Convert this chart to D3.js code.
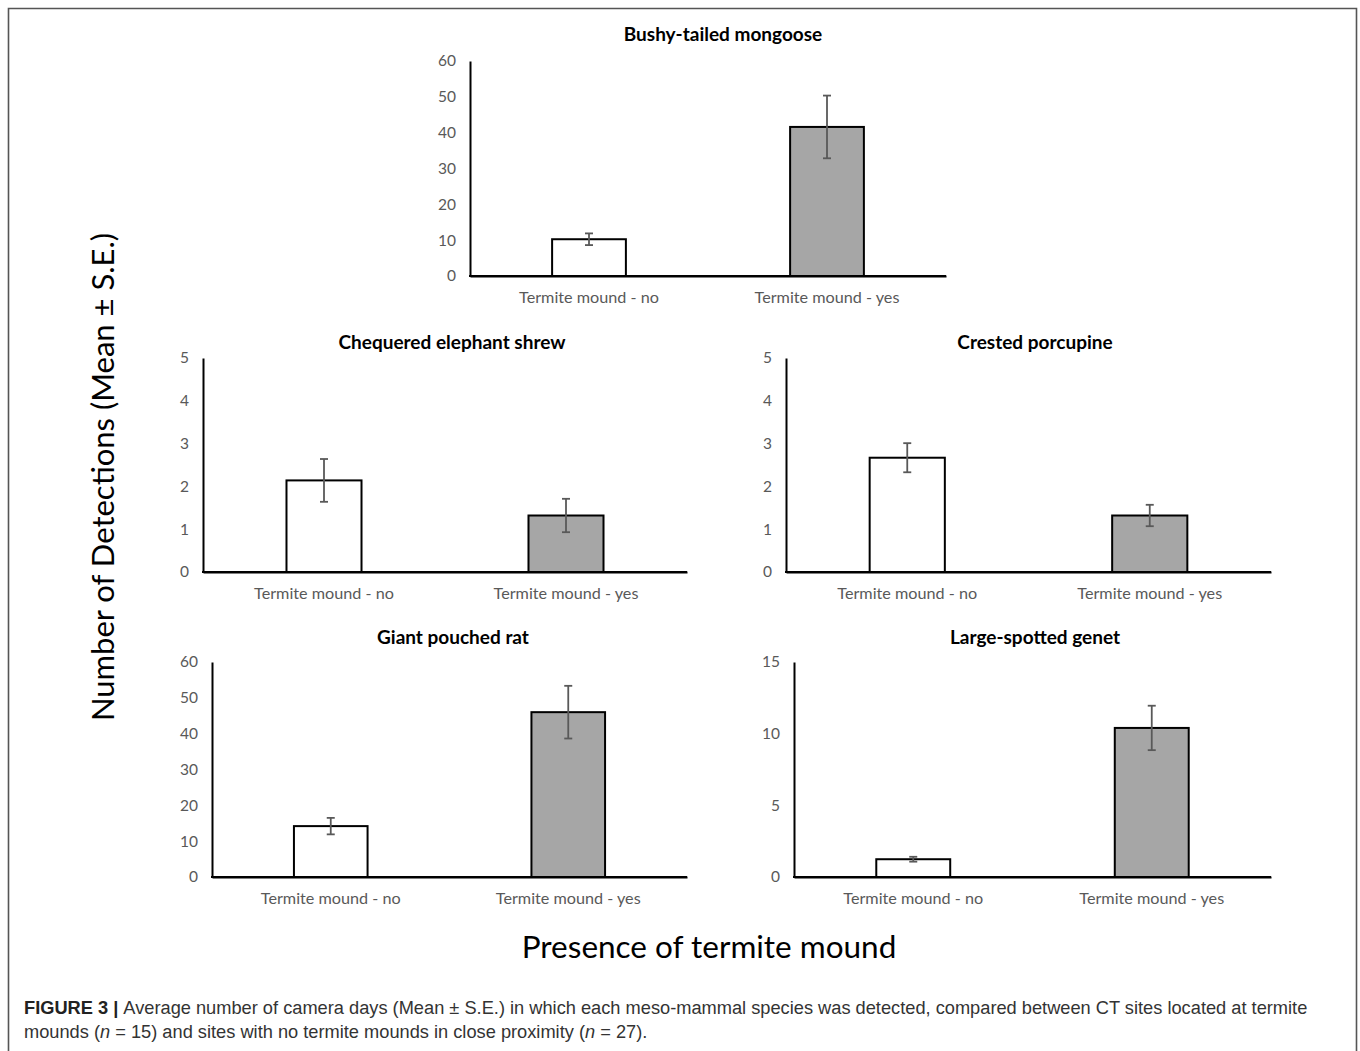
<!DOCTYPE html>
<html>
<head>
<meta charset="utf-8">
<script src="https://cdn.jsdelivr.net/npm/d3@7/dist/d3.min.js"></script>
<style>
  html, body { margin: 0; padding: 0; background: #fff; }
  svg { display: block; }
</style>
</head>
<body>
<svg id="chart" width="1360" height="1051"></svg>
<script>
// ---------------- data ----------------
const categories = ["Termite mound - no", "Termite mound - yes"];
const species = ["Bushy-tailed mongoose", "Chequered elephant shrew", "Crested porcupine", "Giant pouched rat", "Large-spotted genet"];
const meanNo  = [10.26, 2.14, 2.67, 14.2, 1.24];
const meanYes = [41.6, 1.32, 1.32, 46.0, 10.4];
const seNo    = [1.63, 0.50, 0.34, 2.3, 0.17];
const seYes   = [8.75, 0.39, 0.25, 7.35, 1.55];
const yMax    = [60, 5, 5, 60, 15];
const yStep   = [10, 1, 1, 10, 5];
const yTitle = "Number of Detections (Mean \u00B1 S.E.)";
const xTitle = "Presence of termite mound";

// ---------------- layout ----------------
const panels = [
  { x0: 470, x1: 946,  yTop: 61,  yBase: 276, tx: 723,  ty: 41 },
  { x0: 203, x1: 687,  yTop: 358, yBase: 572, tx: 452,  ty: 349 },
  { x0: 786, x1: 1271, yTop: 358, yBase: 572, tx: 1035, ty: 349 },
  { x0: 212, x1: 687,  yTop: 662, yBase: 877, tx: 453,  ty: 644 },
  { x0: 794, x1: 1271, yTop: 662, yBase: 877, tx: 1035, ty: 644 }
];
const fills = ["#ffffff", "#a6a6a6"];
const chartFont = "Lato, 'Open Sans', sans-serif";

const svg = d3.select("#chart");

// frame
svg.append("path")
  .attr("d", "M8.5,1051 L8.5,8.5 L1356.5,8.5 L1356.5,1051")
  .attr("fill", "none").attr("stroke", "#555").attr("stroke-width", 1.6);

species.forEach((name, i) => {
  const p = panels[i];
  const g = svg.append("g");
  const x = d3.scaleBand().domain(categories).range([p.x0, p.x1])
    .paddingInner(0.69).paddingOuter(0.345);
  const y = d3.scaleLinear().domain([0, yMax[i]]).range([p.yBase, p.yTop]);
  const ticks = d3.range(0, yMax[i] + yStep[i] / 2, yStep[i]);

  // y axis
  const yAxis = d3.axisLeft(y).tickValues(ticks).tickSize(0).tickPadding(14)
    .tickFormat(d3.format("d"));
  const ya = g.append("g").attr("transform", `translate(${p.x0},0)`).call(yAxis);
  ya.select(".domain").attr("stroke", "#000").attr("stroke-width", 2);
  ya.selectAll("text").attr("fill", "#595959").style("font-family", chartFont).style("font-size", "15.5px");

  // x axis
  const xAxis = d3.axisBottom(x).tickSize(0).tickPadding(15);
  const xa = g.append("g").attr("transform", `translate(0,${p.yBase})`).call(xAxis);
  xa.select(".domain").attr("stroke", "#000").attr("stroke-width", 2);
  xa.selectAll("text").attr("fill", "#595959").style("font-family", chartFont).style("font-size", "16.2px");

  const rows = [
    { c: categories[0], m: meanNo[i],  se: seNo[i],  f: fills[0] },
    { c: categories[1], m: meanYes[i], se: seYes[i], f: fills[1] }
  ];

  // bars
  g.selectAll("rect.bar").data(rows).enter().append("rect")
    .attr("class", "bar")
    .attr("x", d => x(d.c))
    .attr("width", x.bandwidth())
    .attr("y", d => y(d.m))
    .attr("height", d => y(0) - y(d.m))
    .attr("fill", d => d.f)
    .attr("stroke", "#000").attr("stroke-width", 2);

  // redraw baseline over bars
  g.append("line").attr("x1", p.x0 - 1).attr("x2", p.x1).attr("y1", p.yBase).attr("y2", p.yBase)
    .attr("stroke", "#000").attr("stroke-width", 2);

  // error bars
  const eb = g.selectAll("g.err").data(rows).enter().append("g").attr("class", "err")
    .attr("stroke", "#595959").attr("stroke-width", 1.8);
  const cx = d => x(d.c) + x.bandwidth() / 2;
  eb.append("line").attr("x1", cx).attr("x2", cx)
    .attr("y1", d => y(d.m + d.se)).attr("y2", d => y(d.m - d.se));
  eb.append("line").attr("x1", d => cx(d) - 4).attr("x2", d => cx(d) + 4)
    .attr("y1", d => y(d.m + d.se)).attr("y2", d => y(d.m + d.se));
  eb.append("line").attr("x1", d => cx(d) - 4).attr("x2", d => cx(d) + 4)
    .attr("y1", d => y(d.m - d.se)).attr("y2", d => y(d.m - d.se));

  // title
  g.append("text")
    .attr("x", p.tx)
    .attr("y", p.ty)
    .attr("text-anchor", "middle")
    .style("font-family", chartFont).style("font-weight", "bold").style("font-size", "19px")
    .attr("fill", "#000")
    .text(name);
});

// axis titles
svg.append("text")
  .attr("transform", "translate(114,477) rotate(-90)")
  .attr("text-anchor", "middle")
  .style("font-family", chartFont).style("font-size", "31px").attr("fill", "#000")
  .text(yTitle);

svg.append("text")
  .attr("x", 709).attr("y", 958)
  .attr("text-anchor", "middle")
  .style("font-family", chartFont).style("font-size", "31.5px").attr("fill", "#000")
  .text(xTitle);

// caption
const capFont = "'Liberation Sans', Arial, sans-serif";
const l1 = svg.append("text").attr("x", 24).attr("y", 1014)
  .style("font-family", capFont).style("font-size", "17px").attr("fill", "#333");
l1.append("tspan").style("font-weight", "bold").attr("fill", "#222").text("FIGURE 3 | ");
l1.append("tspan").text("Average number of camera days (Mean \u00B1 S.E.) in which each meso-mammal species was detected, compared between CT sites located at termite");

const l2 = svg.append("text").attr("x", 24).attr("y", 1038)
  .style("font-family", capFont).style("font-size", "17px").attr("fill", "#333");
l2.append("tspan").text("mounds (");
l2.append("tspan").style("font-style", "italic").text("n");
l2.append("tspan").text(" = 15) and sites with no termite mounds in close proximity (");
l2.append("tspan").style("font-style", "italic").text("n");
l2.append("tspan").text(" = 27).");

// fit caption first line width to reference
const w1 = l1.node().getComputedTextLength();
const target = 1284;
const fs = 17 * target / w1;
l1.style("font-size", fs + "px");
l2.style("font-size", fs + "px");
</script>
</body>
</html>
